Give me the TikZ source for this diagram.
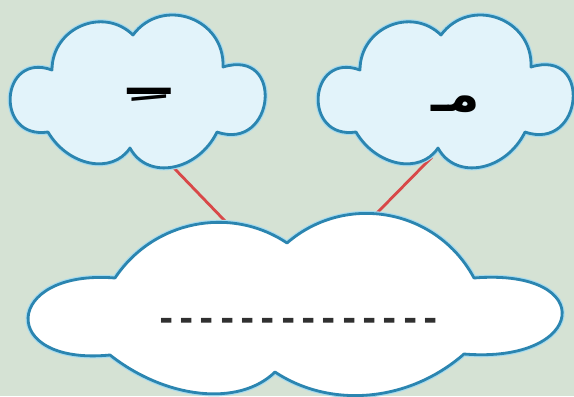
\documentclass[tikz,border=0pt]{standalone}
\usepackage{fontspec}
\newfontfamily\arabicfont[Script=Arabic]{DejaVu Sans}
\newfontfamily\blankfont[Ligatures=TeXOff]{DejaVu Sans Mono}
\TeXXeTstate=1
\definecolor{paper}{HTML}{D5E2D4}
\definecolor{skyfill}{HTML}{E2F3FA}
\definecolor{rim}{HTML}{2B85B0}
\definecolor{halo}{HTML}{A6DBEF}
\definecolor{redline}{HTML}{D84848}
\definecolor{inkdash}{HTML}{303030}

\tikzset{puffcloud/.pic={
  \path[rimline,fill=#1] (-85,-21) .. controls +(0,-42) and +(-30,-29) .. (-4,-56)
     .. controls +(29,-39) and +(2,-49) .. (86,-24)
     .. controls +(62,-19) and +(58,20) .. (80,41)
     .. controls +(-19,39) and +(18,33) .. (-7,57)
     .. controls +(-18,27) and +(20,34) .. (-89,41)
     .. controls +(-54,8) and +(-52,-19) .. (-85,-21) -- cycle;}}

\begin{document}
\begin{tikzpicture}[x=0.025cm,y=-0.025cm,
    rimline/.style={draw=rim,line width=2pt,line join=round,
                    preaction={draw=halo,line width=3.6pt}},
    letter/.style={font=\fontsize{36}{36}\selectfont\arabicfont\bfseries,anchor=base},
    blank/.style={font=\fontsize{24}{24}\selectfont\blankfont\bfseries,text=inkdash,anchor=base},
    link/.style={redline,line width=2pt}]
  \fill[paper] (0,0) rectangle (574,396);
  \useasboundingbox (0,0) rectangle (574,396);
  % connectors first, the clouds hide their ends
  \coordinate (kasra foot) at (172,166);
  \coordinate (meem foot) at (432,157);
  \coordinate (blank left) at (226,222);
  \coordinate (blank right) at (374,216);
  \draw[link] (kasra foot) -- (blank left);
  \draw[link] (meem foot) -- (blank right);
  % two small clouds
  \pic at (137,91) {puffcloud=skyfill};
  \pic at (445,91) {puffcloud=skyfill};
  % big cloud
  \path[rimline,fill=white] (115,278) .. controls +(38,-57) and +(-57,-38) .. (287,243)
     .. controls +(59,-51) and +(-37,-69) .. (474,278)
     .. controls +(125,-10) and +(123,10) .. (464,354)
     .. controls +(-55,48) and +(56,37) .. (275,372)
     .. controls +(-36,35) and +(56,44) .. (110,355)
     .. controls +(-113,11) and +(-112,-9) .. (115,278) -- cycle;
  \node[letter] (kasra) at (149,94) {\scalebox{2.4}[1]{\beginR ـِ\endR}};
  \node[letter] (meem) at (456,111) {\beginR مـ\endR};
  \node[blank] (blank) at (298.5,330) {--------------};
\end{tikzpicture}
\end{document}
